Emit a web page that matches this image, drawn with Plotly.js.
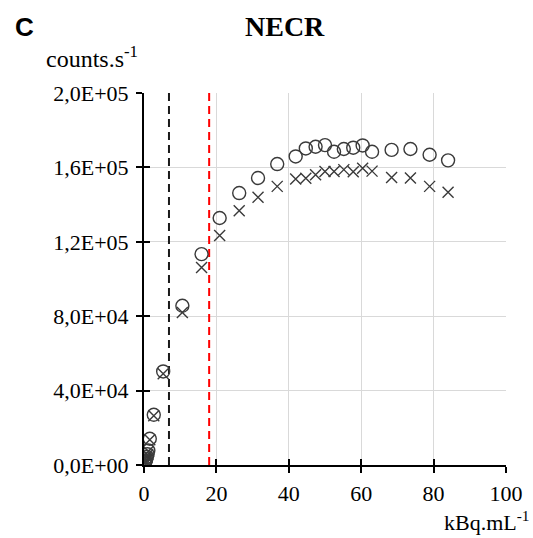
<!DOCTYPE html>
<html>
<head>
<meta charset="utf-8">
<script src="https://cdn.plot.ly/plotly-3.0.1.min.js"></script>
<style>html,body{margin:0;padding:0;background:#fff;}#chart{width:533px;height:538px;}</style>
</head>
<body>
<div id="chart"></div>
<script>
// Activity concentration (kBq/mL)
const activity = [0.2, 0.3, 0.45, 0.6, 0.8, 1.0, 1.2, 1.6, 2.7, 5.3, 10.6, 15.9, 20.9, 26.3, 31.5, 36.8, 41.9, 44.7, 47.4, 50.0, 52.5, 55.2, 57.8, 60.4, 63.0, 68.4, 73.6, 78.9, 84.0];
// Series 1 (circles) NECR counts/s
const necrCircle = [900, 1500, 2200, 3200, 4400, 5800, 7800, 14100, 27000, 50300, 85600, 113400, 132800, 146200, 154300, 161800, 165900, 170200, 171100, 172000, 168400, 169900, 170600, 171800, 168400, 169400, 169900, 166800, 163800];
// Series 2 (crosses) NECR counts/s
const necrCross = [800, 1400, 2100, 3000, 4200, 5500, 7400, 13600, 26500, 49100, 82000, 106200, 123400, 136700, 143900, 149800, 153800, 154200, 156100, 157800, 157800, 158800, 157600, 159500, 158000, 154600, 154300, 149800, 146600];
// Reference vertical lines (kBq/mL)
const blackLineX = 6.9;
const redLineX = 18.0;
const lineTop = 200000;
const yTickVals = [0, 40000, 80000, 120000, 160000, 200000];
const yTickText = ["0,0E+00", "4,0E+04", "8,0E+04", "1,2E+05", "1,6E+05", "2,0E+05"];
const xTickVals = [0, 20, 40, 60, 80, 100];
const xTickText = ["0", "20", "40", "60", "80", "100"];

const serif = "Liberation Serif";
const mk = "#3a3a3a";

const traces = [
  {x: [blackLineX, blackLineX], y: [0, lineTop], mode: "lines", line: {color: "#1a1a1a", width: 2, dash: "8px,5px"}, hoverinfo: "skip", showlegend: false},
  {x: [redLineX, redLineX], y: [0, lineTop], mode: "lines", line: {color: "#ff0000", width: 2, dash: "8px,5px"}, hoverinfo: "skip", showlegend: false},
  {x: activity, y: necrCircle, mode: "markers", marker: {symbol: "circle-open", size: 13, color: mk, line: {width: 1.4, color: mk}}, showlegend: false},
  {x: activity, y: necrCross, mode: "markers", marker: {symbol: "x-thin-open", size: 11, color: mk, line: {width: 1.4, color: mk}}, showlegend: false},
  {x: [null], y: [null], xaxis: "x2", yaxis: "y2", mode: "markers", showlegend: false, hoverinfo: "skip"}
];

const layout = {
  width: 533, height: 538,
  margin: {l: 144, r: 27, t: 93, b: 73},
  paper_bgcolor: "#fff", plot_bgcolor: "#fff",
  showlegend: false,
  font: {family: serif, color: "#000"},
  xaxis: {
    range: [0, 100], tickvals: xTickVals, ticktext: xTickText,
    showgrid: true, gridcolor: "#d9d9d9", gridwidth: 1, zeroline: false,
    showline: true, linecolor: "#000", linewidth: 2,
    ticks: "outside", ticklen: 6, tickwidth: 2, tickcolor: "#000",
    tickfont: {family: serif, size: 22, color: "#000"}, ticklabelstandoff: 2
  },
  yaxis: {
    range: [0, 200000], tickvals: yTickVals, ticktext: yTickText,
    showgrid: true, gridcolor: "#d9d9d9", gridwidth: 1, zeroline: false,
    showline: true, linecolor: "#000", linewidth: 2,
    ticks: "outside", ticklen: 6, tickwidth: 2, tickcolor: "#000",
    tickfont: {family: serif, size: 22, color: "#000"}, ticklabelstandoff: 3
  },
  xaxis2: {overlaying: "x", range: [0, 100], tickvals: xTickVals, showticklabels: false, showgrid: false, zeroline: false, ticks: "inside", ticklen: 6, tickwidth: 2, tickcolor: "#000", side: "bottom", matches: "x"},
  yaxis2: {overlaying: "y", range: [0, 200000], tickvals: yTickVals, showticklabels: false, showgrid: false, zeroline: false, ticks: "inside", ticklen: 6, tickwidth: 2, tickcolor: "#000", side: "left", matches: "y"},
  annotations: [
    {text: "<b>NECR</b>", xref: "paper", yref: "paper", x: 0.39, y: 1, xanchor: "center", yanchor: "middle", yshift: 67, showarrow: false, font: {family: serif, size: 28, color: "#000"}},
    {text: "<b>C</b>", xref: "paper", yref: "paper", x: 0, y: 1, xanchor: "left", yanchor: "middle", xshift: -131, yshift: 66, showarrow: false, font: {family: "Liberation Sans", size: 26, color: "#000"}},
    {text: "counts.s<sup>-1</sup>", xref: "paper", yref: "paper", x: 0, y: 1, xanchor: "left", yanchor: "middle", xshift: -100, yshift: 36, showarrow: false, font: {family: serif, size: 24, color: "#000"}},
    {text: "kBq.mL<sup>-1</sup>", xref: "paper", yref: "paper", x: 1, y: 0, xanchor: "right", yanchor: "middle", xshift: 26, yshift: -56, showarrow: false, font: {family: serif, size: 22, color: "#000"}}
  ]
};

Plotly.newPlot("chart", traces, layout, {staticPlot: true, displayModeBar: false});
</script>
</body>
</html>
